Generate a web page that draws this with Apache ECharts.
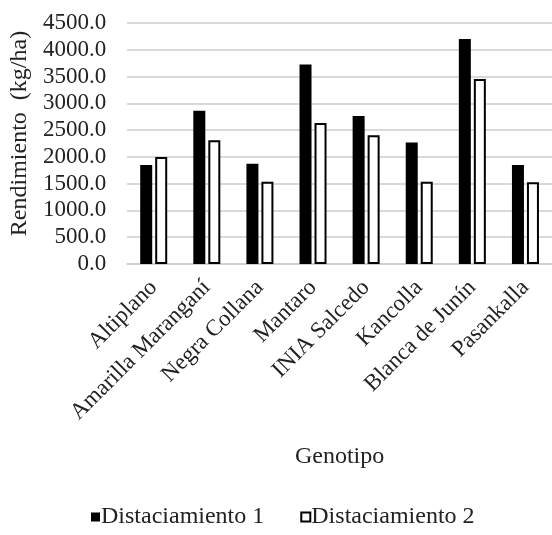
<!DOCTYPE html>
<html>
<head>
<meta charset="utf-8">
<script src="https://cdn.jsdelivr.net/npm/echarts@6/dist/echarts.min.js"></script>
<style>html,body{margin:0;padding:0;background:#fff}#c{width:552px;height:535px}</style>
</head>
<body>
<div id="c"></div>
<script>
const categories = ["Altiplano", "Amarilla Maranganí", "Negra Collana", "Mantaro", "INIA Salcedo", "Kancolla", "Blanca de Junín", "Pasankalla"];
const distanciamiento1 = [1850, 2860, 1870, 3725, 2765, 2270, 4200, 1850];
const distanciamiento2 = [2000, 2310, 1535, 2635, 2405, 1535, 3455, 1525];
const seriesNames = ["Distaciamiento 1", "Distaciamiento 2"];
const yAxisTitle = "Rendimiento  (kg/ha)";
const xAxisTitle = "Genotipo";

const FONT = "Liberation Serif";
const chart = echarts.init(document.getElementById('c'), null, {renderer: 'canvas'});
chart.setOption({
  animation: false,
  backgroundColor: '#fff',
  textStyle: {fontFamily: FONT, color: '#222'},
  grid: {left: 126, right: -6, top: 23, bottom: 271, containLabel: false},
  legend: {
    bottom: 1, left: 86,
    icon: 'rect', itemWidth: 9, itemHeight: 9, itemGap: 36,
    textStyle: {fontFamily: FONT, fontSize: 24, color: '#222', padding: [0,0,0,-4]},
    data: seriesNames
  },
  xAxis: {
    type: 'category', data: categories,
    name: xAxisTitle, nameLocation: 'middle', nameGap: 181,
    nameTextStyle: {fontFamily: FONT, fontSize: 24, color: '#222'},
    axisLine: {lineStyle: {color: '#d0d0d0', width: 2}},
    axisTick: {show: false},
    axisLabel: {rotate: 45, interval: 0, fontFamily: FONT, fontSize: 23, color: '#222', margin: 20}
  },
  yAxis: {
    type: 'value', min: 0, max: 4500, interval: 500,
    name: yAxisTitle, nameLocation: 'middle', nameGap: 92, nameRotate: 90,
    nameTextStyle: {fontFamily: FONT, fontSize: 24, color: '#222', padding: [0,0,0,20]},
    axisLine: {show: false}, axisTick: {show: false},
    splitLine: {lineStyle: {color: '#d9d9d9', width: 2}},
    axisLabel: {fontFamily: FONT, fontSize: 23, color: '#222', margin: 21, formatter: v => v.toFixed(1)}
  },
  series: [
    {name: seriesNames[0], type: 'bar', data: distanciamiento1, barWidth: 12, barGap: '25%',
     itemStyle: {color: '#000', borderColor: '#000', borderWidth: 0}},
    {name: seriesNames[1], type: 'bar', data: distanciamiento2, barWidth: 12,
     itemStyle: {color: '#fff', borderColor: '#000', borderWidth: 2}}
  ]
});
</script>
</body>
</html>
